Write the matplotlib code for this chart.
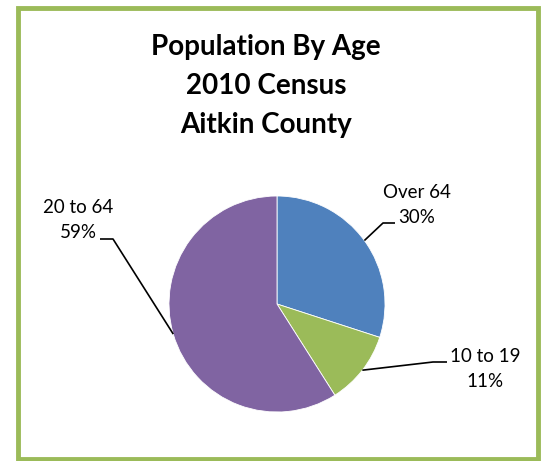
import matplotlib.pyplot as plt
import numpy as np
from matplotlib.patches import Rectangle

plt.rcParams["font.family"] = ["Lato", "DejaVu Sans"]

categories = ["Over 64", "10 to 19", "20 to 64"]
shares = [30, 11, 59]
colors = ["#4f81bd", "#9bbb59", "#8064a2"]
title_lines = ["Population By Age", "2010 Census", "Aitkin County"]

W, H = 543, 461
cx, cy, r = 277, H - 304, 108

# label layout: elbow point, line end, text centre (pixels, y from bottom)
label_layout = {
    "Over 64": ((383, H - 223), (395, H - 223), (417, H - 205)),
    "10 to 19": ((433, H - 362), (447, H - 362), (485, H - 369)),
    "20 to 64": ((113, H - 239), (100, H - 239), (78, H - 220)),
}

fig = plt.figure(figsize=(W / 100, H / 100), dpi=100)
ax = fig.add_axes([0, 0, 1, 1])

wedges, _ = ax.pie(shares, colors=colors, startangle=90, counterclock=False,
                   center=(cx, cy), radius=r, frame=True,
                   wedgeprops=dict(linewidth=0.6, edgecolor="white"))
ax.set_xlim(0, W)
ax.set_ylim(0, H)
ax.axis("off")

for w, name, pct in zip(wedges, categories, shares):
    mid = np.deg2rad((w.theta1 + w.theta2) / 2)
    start = (cx + r * np.cos(mid), cy + r * np.sin(mid))
    elbow, end, txt = label_layout[name]
    ax.plot([start[0], elbow[0], end[0]], [start[1], elbow[1], end[1]],
            color="black", lw=1.2, solid_capstyle="butt")
    ax.text(txt[0], txt[1], f"{name}\n{pct}%", ha="center", va="center",
            fontsize=13.5, linespacing=1.55)

ax.text(266, H - 86, "\n".join(title_lines), ha="center", va="center",
        fontsize=20, fontweight="bold", linespacing=1.6)

ax.add_patch(Rectangle((17.5, 2), 520, 451, fill=False, edgecolor="#9bbb59",
                       linewidth=3.5))

fig.savefig("out.png", dpi=100)
